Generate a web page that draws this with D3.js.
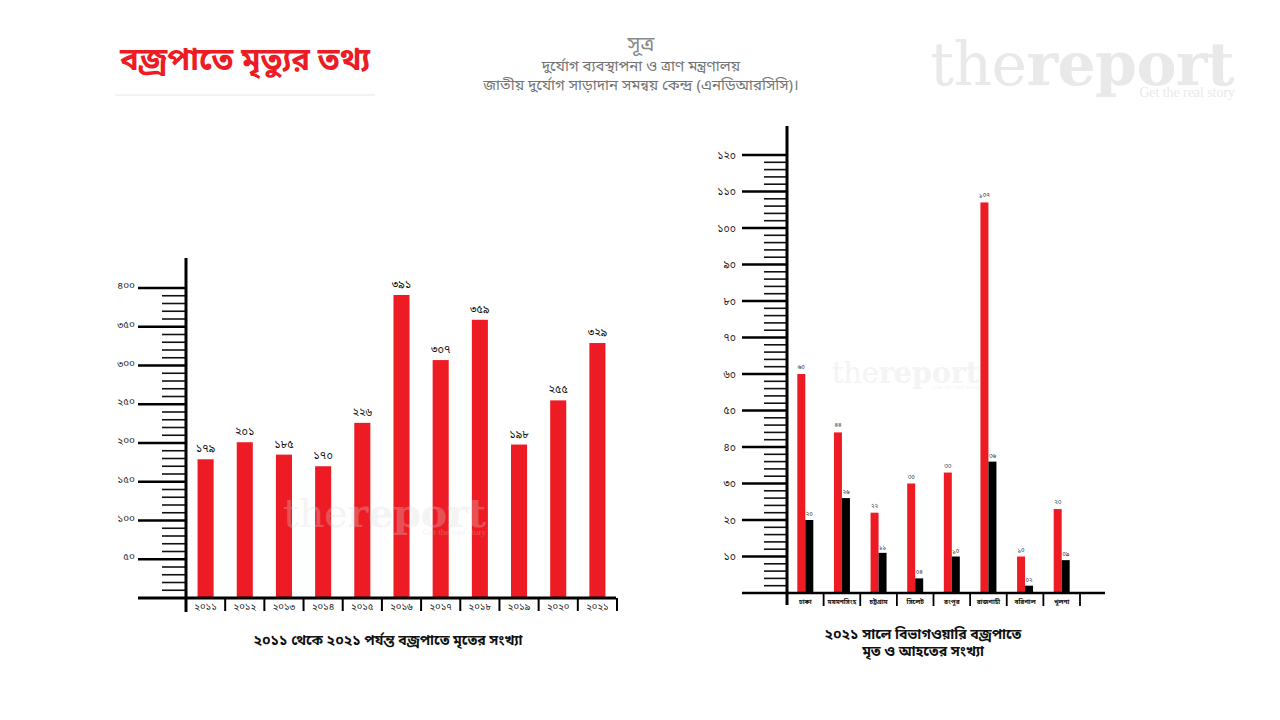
<!DOCTYPE html>
<html>
<head>
<meta charset="utf-8">
<script src="https://cdn.jsdelivr.net/npm/d3@7"></script>
<style>
  html, body { margin:0; padding:0; background:#fff; }
  svg { display:block; font-family: "Noto Sans Bengali","Noto Serif Bengali","Lohit Bengali","Mukti","FreeSans","Noto Sans",sans-serif; }
</style>
</head>
<body>
<svg id="chart" width="1280" height="720"></svg>
<script>
// ---------- DATA ----------
const years = ["২০১১","২০১২","২০১৩","২০১৪","২০১৫","২০১৬","২০১৭","২০১৮","২০১৯","২০২০","২০২১"];
const deathsByYear = [179, 201, 185, 170, 226, 391, 307, 359, 198, 255, 329];
const leftTicks = [50, 100, 150, 200, 250, 300, 350, 400];

const divisions = ["ঢাকা","ময়মনসিংহ","চট্টগ্রাম","সিলেট","রংপুর","রাজশাহী","বরিশাল","খুলনা"];
const divisionDeaths = [60, 44, 22, 30, 33, 107, 10, 23];
const divisionInjured = [20, 26, 11, 4, 10, 36, 2, 9];
const rightTicks = [10, 20, 30, 40, 50, 60, 70, 80, 90, 100, 110, 120];

const titleText = "বজ্রপাতে মৃত্যুর তথ্য";
const sourceTitle = "সূত্র";
const sourceLines = ["দুর্যোগ ব্যবস্থাপনা ও ত্রাণ মন্ত্রণালয়", "জাতীয় দুর্যোগ সাড়াদান সমন্বয় কেন্দ্র (এনডিআরসিসি)।"];
const leftCaption = "২০১১ থেকে ২০২১ পর্যন্ত বজ্রপাতে মৃতের সংখ্যা";
const rightCaption = ["২০২১ সালে বিভাগওয়ারি বজ্রপাতে", "মৃত ও আহতের সংখ্যা"];

// ---------- HELPERS ----------
const bnDigits = "০১২৩৪৫৬৭৮৯";
const toBn = (n, pad) => {
  let s = String(n);
  if (pad && s.length < pad) s = "0".repeat(pad - s.length) + s;
  return s.replace(/[0-9]/g, d => bnDigits[+d]);
};
const RED = "#ed1c24";
const svg = d3.select("#chart");

// logo / watermark
function logo(parent, x, y, size, fill, opacity, tagline) {
  const g = parent.append("g").attr("transform", `translate(${x},${y})`).attr("opacity", opacity);
  const t = g.append("text").attr("font-family", "'DejaVu Serif','Liberation Serif',serif")
    .attr("font-size", size).attr("fill", fill).attr("letter-spacing", -size * 0.01);
  t.append("tspan").attr("font-weight", 400).text("the");
  t.append("tspan").attr("font-weight", 700).text("report");
  if (tagline) {
    g.append("text").attr("font-family", "'Liberation Serif','DejaVu Serif',serif")
      .attr("x", size * 5.08).attr("y", size * 0.2).attr("text-anchor", "end")
      .attr("font-size", size * 0.23).attr("fill", fill).text("Get the real story");
  }
}

// ---------- HEADER ----------
svg.append("text").attr("x", 245).attr("y", 70).attr("text-anchor", "middle")
  .attr("fill", RED).attr("font-size", 31).attr("font-weight", 700).text(titleText);
svg.append("line").attr("x1", 115).attr("x2", 375).attr("y1", 95).attr("y2", 95)
  .attr("stroke", "#e6e6e6").attr("stroke-width", 1.2);

svg.append("text").attr("x", 641).attr("y", 51).attr("text-anchor", "middle")
  .attr("fill", "#8a8a8a").attr("font-size", 21).text(sourceTitle);
sourceLines.forEach((t, i) => {
  svg.append("text").attr("x", 641).attr("y", 71 + i * 19).attr("text-anchor", "middle")
    .attr("fill", "#747474").attr("font-size", 15).text(t);
});

logo(svg, 930, 85, 60, "#e9e9e9", 1, true);

// ---------- LEFT CHART ----------
const L = { axisX: 186, baseY: 598, topY: 288, right: 617 };
const xL = d3.scaleBand().domain(years).range([L.axisX, L.right]).paddingInner(0.59).paddingOuter(0.295);
const xLsep = d3.scaleBand().domain(years).range([L.axisX, L.right]);
const yL = d3.scaleLinear().domain([0, 400]).range([L.baseY, L.topY]);

const gL = svg.append("g");
d3.range(10, 401, 10).filter(v => v % 50 !== 0).forEach(v => {
  gL.append("line").attr("x1", 162).attr("x2", L.axisX).attr("y1", yL(v)).attr("y2", yL(v))
    .attr("stroke", "#111").attr("stroke-width", 1.6);
});
leftTicks.forEach(v => {
  gL.append("line").attr("x1", 138).attr("x2", L.axisX).attr("y1", yL(v)).attr("y2", yL(v))
    .attr("stroke", "#000").attr("stroke-width", 2.6);
  gL.append("text").attr("x", 135).attr("y", yL(v) + 1).attr("text-anchor", "end")
    .attr("font-size", 10).attr("fill", "#222").text(toBn(v));
});
gL.selectAll("rect.bar").data(deathsByYear).enter().append("rect")
  .attr("x", (d, i) => xL(years[i])).attr("width", xL.bandwidth())
  .attr("y", d => yL(d)).attr("height", d => L.baseY - yL(d)).attr("fill", RED);
gL.selectAll("text.val").data(deathsByYear).enter().append("text")
  .attr("x", (d, i) => xL(years[i]) + xL.bandwidth() / 2).attr("y", d => yL(d) - 7)
  .attr("text-anchor", "middle").attr("font-size", 11).attr("fill", "#111").text(d => toBn(d));
gL.append("line").attr("x1", L.axisX).attr("x2", L.axisX).attr("y1", 258).attr("y2", 612)
  .attr("stroke", "#000").attr("stroke-width", 3);
gL.append("line").attr("x1", 138).attr("x2", 616).attr("y1", L.baseY).attr("y2", L.baseY)
  .attr("stroke", "#000").attr("stroke-width", 3);
years.forEach((y, i) => {
  if (i > 0) gL.append("line").attr("x1", xLsep(y)).attr("x2", xLsep(y)).attr("y1", L.baseY).attr("y2", 611)
    .attr("stroke", "#000").attr("stroke-width", 2);
  gL.append("text").attr("x", xLsep(y) + xLsep.bandwidth() / 2).attr("y", 610).attr("text-anchor", "middle")
    .attr("font-size", 9.5).attr("fill", "#222").text(y);
});
gL.append("line").attr("x1", L.right).attr("x2", L.right).attr("y1", L.baseY).attr("y2", 611)
  .attr("stroke", "#000").attr("stroke-width", 2);
logo(gL, 283, 527, 40, "#d8d8d8", 0.28, true);
svg.append("text").attr("x", 388).attr("y", 645).attr("text-anchor", "middle")
  .attr("font-size", 14).attr("font-weight", 700).attr("fill", "#111").text(leftCaption);

// ---------- RIGHT CHART ----------
const R = { axisX: 787, baseY: 593, topY: 155, right: 1080 };
const xR = d3.scaleBand().domain(divisions).range([R.axisX, R.right]);
const yR = d3.scaleLinear().domain([0, 120]).range([R.baseY, R.topY]);
const barW = 8;

const gR = svg.append("g");
d3.range(2, 121, 2).filter(v => v % 10 !== 0).forEach(v => {
  gR.append("line").attr("x1", 764).attr("x2", R.axisX).attr("y1", yR(v)).attr("y2", yR(v))
    .attr("stroke", "#111").attr("stroke-width", 1.6);
});
rightTicks.forEach(v => {
  gR.append("line").attr("x1", 742).attr("x2", R.axisX).attr("y1", yR(v)).attr("y2", yR(v))
    .attr("stroke", "#000").attr("stroke-width", 2.6);
  gR.append("text").attr("x", 736).attr("y", yR(v) + 3.5).attr("text-anchor", "end")
    .attr("font-size", 10.5).attr("fill", "#222").text(toBn(v));
});
const cx = i => xR(divisions[i]) + xR.bandwidth() / 2;
gR.selectAll("rect.d").data(divisionDeaths).enter().append("rect")
  .attr("x", (d, i) => cx(i) - barW).attr("width", barW)
  .attr("y", d => yR(d)).attr("height", d => R.baseY - yR(d)).attr("fill", RED);
gR.selectAll("rect.inj").data(divisionInjured).enter().append("rect")
  .attr("x", (d, i) => cx(i)).attr("width", barW)
  .attr("y", d => yR(d)).attr("height", d => R.baseY - yR(d)).attr("fill", "#000");
gR.selectAll("text.dv").data(divisionDeaths).enter().append("text")
  .attr("x", (d, i) => cx(i) - barW / 2).attr("y", d => yR(d) - 5)
  .attr("text-anchor", "middle").attr("font-size", 6).attr("fill", "#222").text(d => toBn(d, 2));
gR.selectAll("text.iv").data(divisionInjured).enter().append("text")
  .attr("x", (d, i) => cx(i) + barW / 2).attr("y", d => yR(d) - 4)
  .attr("text-anchor", "middle").attr("font-size", 6).attr("fill", "#222").text(d => toBn(d, 2));
gR.append("line").attr("x1", R.axisX).attr("x2", R.axisX).attr("y1", 126).attr("y2", 605)
  .attr("stroke", "#000").attr("stroke-width", 3);
gR.append("line").attr("x1", 742).attr("x2", 1105).attr("y1", R.baseY).attr("y2", R.baseY)
  .attr("stroke", "#000").attr("stroke-width", 2.6);
divisions.forEach((d, i) => {
  if (i > 0) gR.append("line").attr("x1", xR(d)).attr("x2", xR(d)).attr("y1", R.baseY).attr("y2", 606)
    .attr("stroke", "#000").attr("stroke-width", 1.8);
  gR.append("text").attr("x", xR(d) + xR.bandwidth() / 2).attr("y", 604).attr("text-anchor", "middle")
    .attr("font-size", 6.5).attr("font-weight", 700).attr("fill", "#111").text(d);
});
gR.append("line").attr("x1", R.right).attr("x2", R.right).attr("y1", R.baseY).attr("y2", 606)
  .attr("stroke", "#000").attr("stroke-width", 1.8);
logo(gR, 832, 383, 29, "#d8d8d8", 0.28, true);
rightCaption.forEach((t, i) => {
  svg.append("text").attr("x", 923).attr("y", 639 + i * 17).attr("text-anchor", "middle")
    .attr("font-size", 14).attr("font-weight", 700).attr("fill", "#111").text(t);
});
</script>
</body>
</html>
